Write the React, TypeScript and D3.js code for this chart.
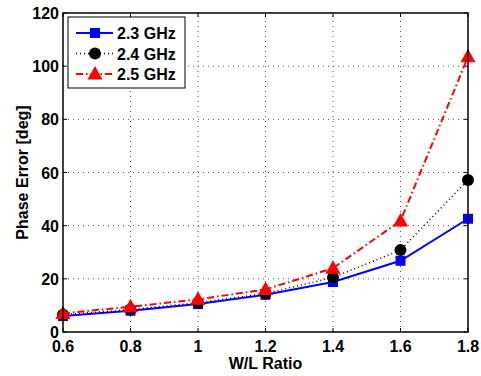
import React from "react";
import * as d3 from "d3";

const xValues = [0.6, 0.8, 1.0, 1.2, 1.4, 1.6, 1.8];
const s23 = [6, 8, 10.5, 14, 18.8, 26.8, 42.6];
const s24 = [6.5, 8.5, 11, 14.5, 20.5, 30.8, 57.2];
const s25 = [7, 9.5, 12.3, 16, 24, 41.8, 103.5];
const xTicks = [0.6, 0.8, 1, 1.2, 1.4, 1.6, 1.8];
const yTicks = [0, 20, 40, 60, 80, 100, 120];
const seriesNames = ["2.3 GHz", "2.4 GHz", "2.5 GHz"];

const W = 481, H = 376;
const m = { left: 63, right: 13, top: 13, bottom: 44 };
const FONT = "'Liberation Sans', Arial, Helvetica, sans-serif";
const FS = 16;

export default function App() {
  const x = d3.scaleLinear().domain([0.6, 1.8]).range([m.left, W - m.right]);
  const y = d3.scaleLinear().domain([0, 120]).range([H - m.bottom, m.top]);
  const line = d3.line<number>().x((_, i) => x(xValues[i])).y((d) => y(d));
  const x0 = x.range()[0], x1 = x.range()[1];
  const y0 = y.range()[0], y1 = y.range()[1];

  const square = (cx: number, cy: number, k: string) => (
    <rect key={k} x={cx - 5} y={cy - 5} width={10} height={10} fill="#0000ff" />
  );
  const circle = (cx: number, cy: number, k: string) => (
    <circle key={k} cx={cx} cy={cy} r={6} fill="#000" />
  );
  const tri = (cx: number, cy: number, k: string) => (
    <path key={k} d={`M${cx},${cy - 8}L${cx + 7.5},${cy + 5.5}L${cx - 7.5},${cy + 5.5}Z`} fill="#ff0000" />
  );

  const series = [
    { data: s23, color: "#0000ff", dash: undefined, width: 2, marker: square },
    { data: s24, color: "#000", dash: "1,3", width: 1.5, marker: circle },
    { data: s25, color: "#ff0000", dash: "7,3,1.5,3", width: 2, marker: tri },
  ];

  return (
    <svg width={W} height={H} style={{ position: "absolute", left: 0, top: 0, background: "#fff" }}>
      {xTicks.slice(1, -1).map((t) => (
        <line key={"gx" + t} x1={x(t)} x2={x(t)} y1={y0} y2={y1} stroke="#555" strokeWidth={1} strokeDasharray="1,4" />
      ))}
      {yTicks.slice(1, -1).map((t) => (
        <line key={"gy" + t} x1={x0} x2={x1} y1={y(t)} y2={y(t)} stroke="#555" strokeWidth={1} strokeDasharray="1,4" />
      ))}
      {xTicks.map((t) => (
        <g key={"tx" + t}>
          <line x1={x(t)} x2={x(t)} y1={y0} y2={y0 - 4} stroke="#000" />
          <line x1={x(t)} x2={x(t)} y1={y1} y2={y1 + 4} stroke="#000" />
          <text x={x(t)} y={y0 + 19.5} textAnchor="middle" fontFamily={FONT} fontWeight="bold" fontSize={FS}>{t === 1 ? "1" : t.toFixed(1)}</text>
        </g>
      ))}
      {yTicks.map((t) => (
        <g key={"ty" + t}>
          <line x1={x0} x2={x0 + 4} y1={y(t)} y2={y(t)} stroke="#000" />
          <line x1={x1} x2={x1 - 4} y1={y(t)} y2={y(t)} stroke="#000" />
          <text x={x0 - 4} y={y(t) + 6} textAnchor="end" fontFamily={FONT} fontWeight="bold" fontSize={FS}>{t}</text>
        </g>
      ))}
      {series.map((s, i) => (
        <g key={"s" + i}>
          <path d={line(s.data) || ""} fill="none" stroke={s.color} strokeWidth={s.width} strokeDasharray={s.dash} />
          {s.data.map((v, j) => s.marker(x(xValues[j]), y(v), `m${i}-${j}`))}
        </g>
      ))}
      <rect x={x0} y={y1} width={x1 - x0} height={y0 - y1} fill="none" stroke="#000" strokeWidth={1.5} />
      <g>
        <rect x={68} y={17} width={117} height={71} fill="#fff" stroke="#000" strokeWidth={1} />
        {series.map((s, i) => {
          const ly = 33 + i * 20.5;
          return (
            <g key={"l" + i}>
              <line x1={76} x2={113} y1={ly} y2={ly} stroke={s.color} strokeWidth={s.width} strokeDasharray={s.dash} />
              {s.marker(95, ly, "lm" + i)}
              <text x={117} y={ly + 6} fontFamily={FONT} fontWeight="bold" fontSize={FS}>{seriesNames[i]}</text>
            </g>
          );
        })}
      </g>
      <text x={(x0 + x1) / 2} y={H - 7} textAnchor="middle" fontFamily={FONT} fontWeight="bold" fontSize={FS}>W/L Ratio</text>
      <text transform={`translate(28,${(y0 + y1) / 2}) rotate(-90)`} textAnchor="middle" fontFamily={FONT} fontWeight="bold" fontSize={FS}>Phase Error [deg]</text>
    </svg>
  );
}
